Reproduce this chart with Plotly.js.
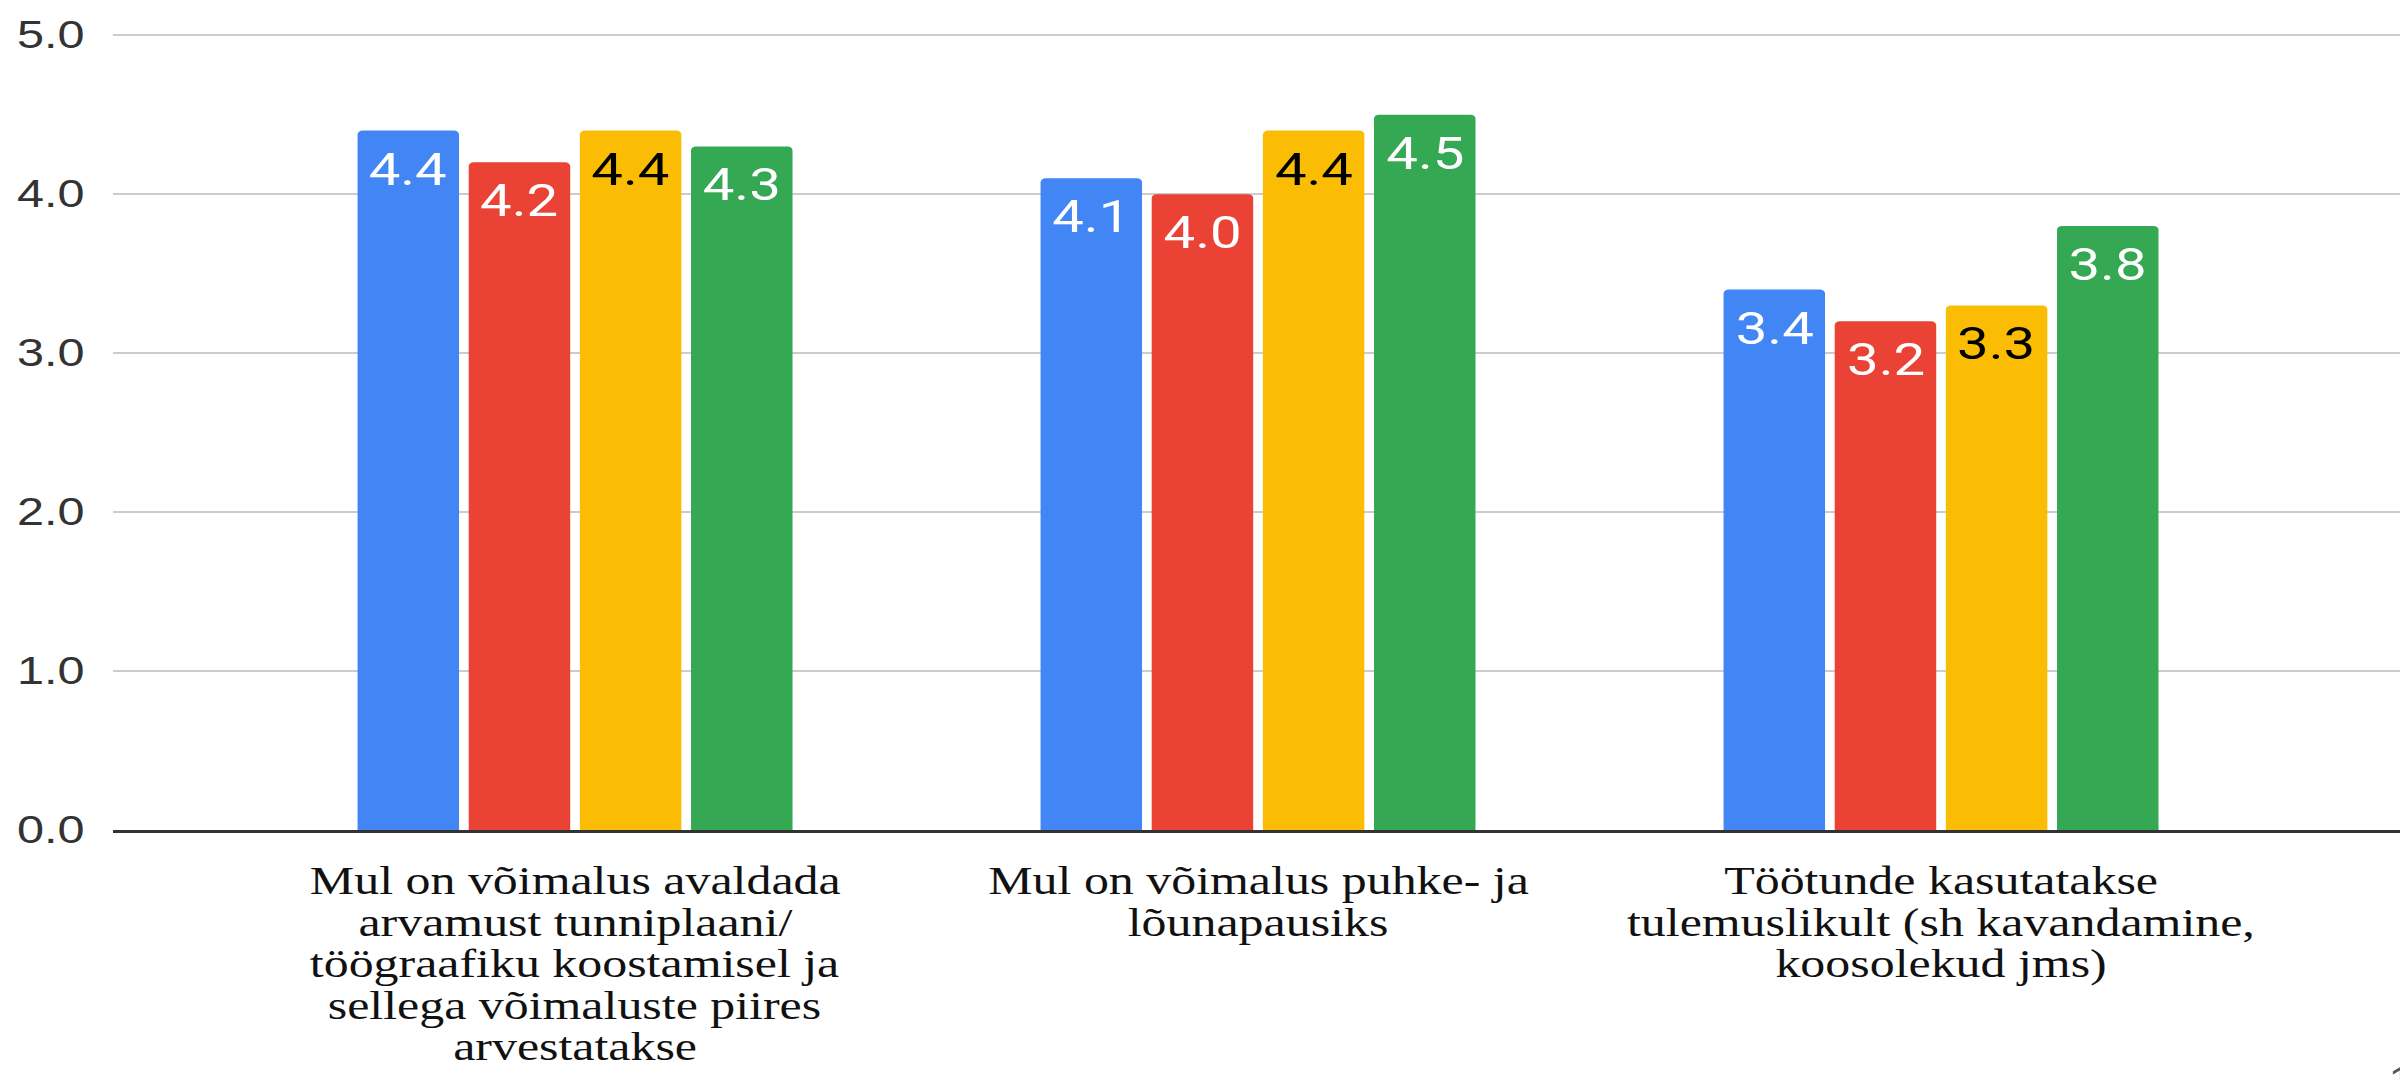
<!DOCTYPE html>
<html><head><meta charset="utf-8">
<script src="https://cdn.plot.ly/plotly-3.0.1.min.js"></script>
<style>
html,body{margin:0;padding:0;background:#fff;overflow:hidden;width:2400px;height:1080px}
#wrap{width:1875px;height:1080px;transform:scaleX(1.28);transform-origin:0 0}
</style></head><body>
<div id="wrap"><div id="chart" style="width:1875px;height:1080px"></div></div>
<script>
// ---- data ----
const categories = [
  'Mul on võimalus avaldada<br>arvamust tunniplaani/<br>töögraafiku koostamisel ja<br>sellega võimaluste piires<br>arvestatakse',
  'Mul on võimalus puhke- ja<br>lõunapausiks',
  'Töötunde kasutatakse<br>tulemuslikult (sh kavandamine,<br>koosolekud jms)'
];
const seriesNames = ['Seeria 1', 'Seeria 2', 'Seeria 3', 'Seeria 4'];
const series1 = [4.4, 4.1, 3.4];
const series2 = [4.2, 4.0, 3.2];
const series3 = [4.4, 4.4, 3.3];
const series4 = [4.3, 4.5, 3.8];
const yTickVals = [0, 1, 2, 3, 4, 5];
const yTickText = ['0.0', '1.0', '2.0', '3.0', '4.0', '5.0'];

// ---- styles ----
const colors = ['#4285F4', '#EA4335', '#FBBC04', '#34A853'];
const labelColors = ['#ffffff', '#ffffff', '#000000', '#ffffff'];
const allSeries = [series1, series2, series3, series4];
const bargap = 0.349, bargroupgap = 0.087;
const catFont = {family: "'Liberation Serif', 'Times New Roman', serif", size: 39, color: '#111111'};
const catLineStep = 41.5, catFirstShift = -27;

const traces = allSeries.map((vals, i) => ({
  type: 'bar', name: seriesNames[i], x: categories, y: vals,
  marker: {color: colors[i], cornerradius: 4},
  hoverinfo: 'skip'
}));

const slot = (1 - bargap) / allSeries.length;
const annotations = [];
allSeries.forEach((vals, s) => vals.forEach((v, c) => {
  annotations.push({
    xref: 'x', yref: 'y', x: c - (1 - bargap) / 2 + slot * (s + 0.5), y: v,
    text: v.toFixed(1), showarrow: false, yanchor: 'top', xanchor: 'center', yshift: -11,
    font: {family: 'Roboto, Arial, sans-serif', size: 44, color: labelColors[s]}
  });
}));
// category labels (wrapped lines, tighter line spacing than Plotly's default)
categories.forEach((cat, c) => {
  cat.split('<br>').forEach((line, i) => {
    annotations.push({
      xref: 'x', yref: 'paper', x: c, y: 0, xanchor: 'center', yanchor: 'top',
      yshift: catFirstShift - catLineStep * i, text: line, showarrow: false, font: catFont
    });
  });
});
annotations.push({
  xref: 'paper', yref: 'paper', x: 1, y: 0, xanchor: 'left', yanchor: 'top',
  xshift: -11, yshift: -228, text: '1', showarrow: false,
  font: {family: "'Liberation Sans', Arial, sans-serif", size: 36, color: '#555555'}
});

const layout = {
  width: 1875, height: 1080,
  margin: {l: 87.5, r: 0, t: 32, b: 250, pad: 0},
  paper_bgcolor: '#ffffff', plot_bgcolor: '#ffffff',
  showlegend: false, hovermode: false,
  barmode: 'group', bargap: bargap, bargroupgap: bargroupgap,
  xaxis: {
    type: 'category', range: [-0.677, 2.672], showgrid: false, zeroline: false,
    showline: true, linecolor: '#333333', linewidth: 3,
    ticks: '', showticklabels: false
  },
  yaxis: {
    range: [0, 5.02], tickvals: yTickVals, ticktext: yTickText,
    showgrid: true, gridcolor: '#cccccc', gridwidth: 2, zeroline: false,
    showline: false, ticks: '', ticklabelstandoff: 21,
    tickfont: {family: "'Liberation Sans', Arial, sans-serif", size: 38, color: '#333333'}
  },
  annotations: annotations
};

Plotly.newPlot('chart', traces, layout, {displayModeBar: false, staticPlot: true, responsive: false});
</script>
</body></html>
